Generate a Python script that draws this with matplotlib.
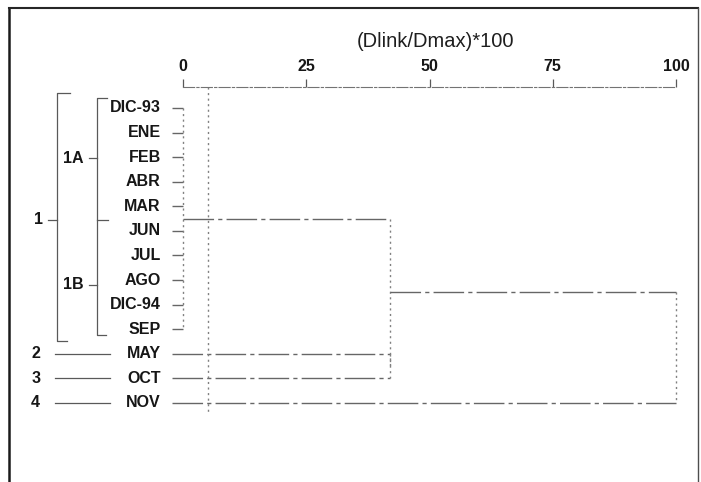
import matplotlib.pyplot as plt
from matplotlib.lines import Line2D

plt.rcParams['font.family'] = ['Liberation Sans', 'DejaVu Sans']

# leaves of the dendrogram, top to bottom
leaves = ['DIC-93', 'ENE', 'FEB', 'ABR', 'MAR', 'JUN', 'JUL', 'AGO',
          'DIC-94', 'SEP', 'MAY', 'OCT', 'NOV']

# merges: (children, height) -- ints are leaf rows, 'c<k>' is merge k
merges = [
    (list(range(10)), 0.0),
    ([10, 11], 42.0),
    (['c0', 'c1'], 42.0),
    (['c2', 12], 100.0),
]
leaf_start = -2.2
cut_level = 5.0

# bracket groups on the left: (label, first row, last row)
groups = [('1', 0, 9)]
subgroups = [('1A', 0, 4), ('1B', 5, 9)]
singles = [('2', 10), ('3', 11), ('4', 12)]

ticks = [0, 25, 50, 75, 100]
title = '(Dlink/Dmax)*100'

fig = plt.figure(figsize=(7.01, 4.82), dpi=100)
ax = fig.add_axes([183 / 701, 0, 493 / 701, 1 - 87 / 482])
ax.set_xlim(0, 100)
ax.set_ylim(15.215, -0.854)

hstyle = dict(color='0.4', lw=1.0, linestyle=(0, (22, 3, 3, 3)),
              clip_on=False)
vstyle = dict(color='0.5', lw=1.0, linestyle=(0, (1.5, 2.5)),
              clip_on=False)

# draw the dendrogram links
pos = {}
height = {}
for k, (children, h) in enumerate(merges):
    ys = []
    for c in children:
        if isinstance(c, int):
            y, x0 = c, leaf_start
        else:
            y, x0 = pos[c], height[c]
        ys.append(y)
        ax.hlines(y, x0, h, **hstyle)
    ax.vlines(h, min(ys), max(ys), **vstyle)
    pos['c%d' % k] = (min(ys) + max(ys)) / 2
    height['c%d' % k] = h

# cut line
ax.vlines(cut_level, -0.854, 12.4, **vstyle)

txt = dict(fontsize=11.5, fontweight='bold', color='#161616', clip_on=False)
for i, name in enumerate(leaves):
    ax.text(-4.5, i, name, ha='right', va='center', **txt)

bcol = dict(color='0.35', lw=0.9, clip_on=False)
# main group bracket
for name, a, b in groups:
    top, bot = a - 0.6, b + 0.48
    ax.plot([-22.9, -25.6, -25.6, -23.5], [top, top, bot, bot], **bcol)
    mid = (a + b) / 2 + 0.05
    ax.plot([-27.4, -25.6], [mid, mid], **bcol)
    ax.text(-29.4, mid, name, ha='center', va='center', **txt)

# sub group brackets
sub_top = subgroups[0][1] - 0.4
sub_bot = subgroups[-1][2] + 0.24
ax.plot([-15.4, -17.4, -17.4, -15.6], [sub_top, sub_top, sub_bot, sub_bot],
        **bcol)
ax.plot([-17.4, -15.2], [4.56, 4.56], **bcol)
for name, a, b in subgroups:
    mid = (a + b) / 2 + 0.05 if a == 0 else (a + b) / 2 + 0.2
    ax.plot([-19.1, -17.4], [mid, mid], **bcol)
    ax.text(-22.2, mid, name, ha='center', va='center', **txt)

for name, row in singles:
    ax.plot([-26.0, -14.8], [row, row], **bcol)
    ax.text(-29.9, row, name, ha='center', va='center', **txt)

# top axis
for s in ['left', 'right', 'bottom']:
    ax.spines[s].set_visible(False)
ax.spines['top'].set_color('0.45')
ax.spines['top'].set_linestyle((0, (10, 2, 2, 2)))
ax.xaxis.tick_top()
ax.set_xticks(ticks)
ax.set_xticklabels([str(t) for t in ticks])
ax.tick_params(axis='x', direction='out', length=6, width=0.9, pad=3.5,
               colors='0.35', labelsize=11.5, labelcolor='#161616')
for lab in ax.get_xticklabels():
    lab.set_fontweight('bold')
ax.set_yticks([])
ax.text(51.2, -2.7, title, ha='center', va='center', fontsize=14.5,
        color='#1e1e1e', clip_on=False)

# scanned page frame
fig.add_artist(Line2D([9 / 701, 9 / 701], [0, 1 - 8 / 482],
                      transform=fig.transFigure, color='0.1', lw=1.8))
fig.add_artist(Line2D([9 / 701, 698 / 701], [1 - 8 / 482, 1 - 8 / 482],
                      transform=fig.transFigure, color='0.15', lw=1.5))
fig.add_artist(Line2D([698 / 701, 698 / 701], [0, 1 - 8 / 482],
                      transform=fig.transFigure, color='0.3', lw=1.0))

fig.savefig('out.png', dpi=100)
